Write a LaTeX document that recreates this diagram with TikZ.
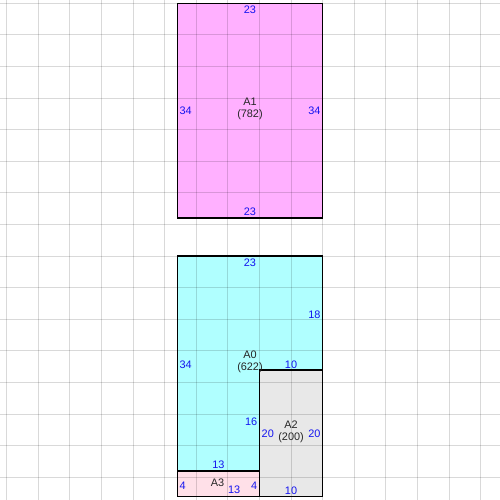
\documentclass[tikz,border=0pt]{standalone}
\usepackage{fontspec}
\setmainfont{Liberation Sans}
\definecolor{aonecol}{RGB}{255,176,255}
\definecolor{azerocol}{RGB}{176,255,255}
\definecolor{atwocol}{RGB}{232,232,232}
\definecolor{athreecol}{RGB}{255,224,232}
\definecolor{lblblue}{RGB}{20,20,240}
\begin{document}
\begin{tikzpicture}[x=0.1264cm,y=-0.1264cm,
  lbl/.style={text=lblblue,font=\fontsize{6.2pt}{7pt}\selectfont,inner sep=0pt},
  nm/.style={text=black!85,font=\fontsize{6.2pt}{7pt}\selectfont,align=center,inner sep=0pt},
  gridln/.style={draw=black,opacity=0.15,line width=0.02cm},
  border/.style={draw=black,line width=0.03cm}]
\useasboundingbox (-28.05,-0.52) rectangle (51.06,78.59);
\fill[white] (-28.05,-0.52) rectangle (51.06,78.59);
% fills
\fill[aonecol] (0,0) rectangle (23,34);
\fill[azerocol] (0,40) -- (23,40) -- (23,58) -- (13,58) -- (13,74) -- (0,74) -- cycle;
\fill[atwocol] (13,58) rectangle (23,78);
\fill[athreecol] (0,74) rectangle (13,78);
% grid
\foreach \gx in {-27,-22,...,48} \draw[gridln] (\gx,-0.52) -- (\gx,78.59);
\foreach \gy in {0,5,...,75} \draw[gridln] (-28.05,\gy) -- (51.06,\gy);
% borders
\draw[border] (0,0) rectangle (23,34);
\draw[border] (0,40) -- (23,40) -- (23,58) -- (13,58) -- (13,74) -- (0,74) -- cycle;
\draw[border] (13,58) rectangle (23,78);
\draw[border] (0,74) rectangle (13,78);
% A1 labels
\node[nm] (n1) at (11.5,16.7) {A1\\(782)};
\node[lbl] (a1t) at (11.5,1.1) {23};
\node[lbl] (a1b) at (11.5,33.0) {23};
\node[lbl,anchor=west] (a1l) at (0.3,17.05) {34};
\node[lbl,anchor=east] (a1r) at (22.7,17.05) {34};
% A0 labels
\node[nm] (n0) at (11.5,56.7) {A0\\(622)};
\node[lbl] (a0t) at (11.5,41.1) {23};
\node[lbl,anchor=east] (a0r) at (22.7,49.2) {18};
\node[lbl,anchor=west] (a0l) at (0.3,57.2) {34};
\node[lbl] (a0s) at (18,57.2) {10};
\node[lbl,anchor=east] (a0i) at (12.7,66.25) {16};
\node[lbl] (a0b) at (6.5,73.05) {13};
% A2 labels
\node[nm] (n2) at (18,67.8) {A2\\(200)};
\node[lbl,anchor=west] (a2l) at (13.3,68.1) {20};
\node[lbl,anchor=east] (a2r) at (22.7,68.1) {20};
\node[lbl] (a2b) at (18,77.1) {10};
% A3 labels
\node[nm] (n3) at (6.37,75.9) {A3};
\node[lbl,anchor=west] (a3l) at (0.3,76.3) {4};
\node[lbl,anchor=east] (a3r) at (12.7,76.3) {4};
\node[lbl] (a3b) at (9.0,76.9) {13};
\end{tikzpicture}
\end{document}
